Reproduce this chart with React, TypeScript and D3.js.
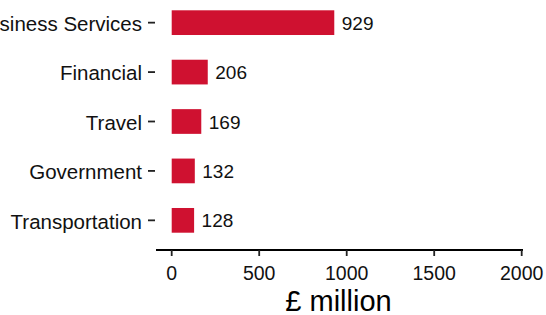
import React from 'react';
import * as d3 from 'd3';

const categories = ['Business Services', 'Financial', 'Travel', 'Government', 'Transportation'];
const values = [929, 206, 169, 132, 128];
const xTicks = [0, 500, 1000, 1500, 2000];
const xTitle = '£ million';

const W = 546;
const H = 315;
const FONT = '"Liberation Sans", Arial, sans-serif';
const BAR = '#cf1130';

export default function App() {
  // panel edges (ggplot-like, top is cropped)
  const panel = { left: 156, right: 523, top: -7, bottom: 250 };

  const x = d3.scaleLinear().domain([0, 2000]).range([171.7, 521.7]);

  // discrete axis with 0.6 expansion at both ends
  const y = d3.scaleBand<string>()
    .domain(categories)
    .range([panel.top, panel.bottom])
    .paddingInner(0.5)
    .paddingOuter(0.35);

  return (
    <div style={{ position: 'absolute', left: 0, top: 0 }}>
      <svg width={W} height={H} style={{ display: 'block', background: '#fff' }} fontFamily={FONT}>
        {/* bars */}
        {categories.map((c, i) => (
          <rect
            key={c}
            x={x(0)}
            y={y(c)}
            width={x(values[i]) - x(0)}
            height={y.bandwidth()}
            fill={BAR}
          />
        ))}

        {/* value labels */}
        {categories.map((c, i) => (
          <text
            key={'v' + c}
            x={x(values[i]) + 7.5}
            y={(y(c) ?? 0) + y.bandwidth() / 2}
            dy="0.37em"
            fontSize={19}
            fill="#111"
          >
            {values[i]}
          </text>
        ))}

        {/* y axis: ticks + labels, no line */}
        {categories.map(c => {
          const cy = (y(c) ?? 0) + y.bandwidth() / 2;
          return (
            <g key={'y' + c}>
              <line x1={148} x2={155} y1={cy} y2={cy} stroke="#222" strokeWidth={1.8} />
              <text x={142} y={cy} dy="0.4em" textAnchor="end" fontSize={20.5} fill="#111">
                {c}
              </text>
            </g>
          );
        })}

        {/* x axis */}
        <line x1={panel.left} x2={panel.right} y1={panel.bottom} y2={panel.bottom} stroke="#000" strokeWidth={2} />
        {xTicks.map(t => (
          <g key={'x' + t}>
            <line x1={x(t)} x2={x(t)} y1={panel.bottom} y2={panel.bottom + 6} stroke="#222" strokeWidth={1.8} />
            <text x={x(t)} y={279.5} textAnchor="middle" fontSize={19.5} fill="#111">
              {t}
            </text>
          </g>
        ))}

        <text x={(panel.left + panel.right) / 2 - 1} y={310.5} textAnchor="middle" fontSize={29} fill="#000">
          {xTitle}
        </text>
      </svg>
    </div>
  );
}
